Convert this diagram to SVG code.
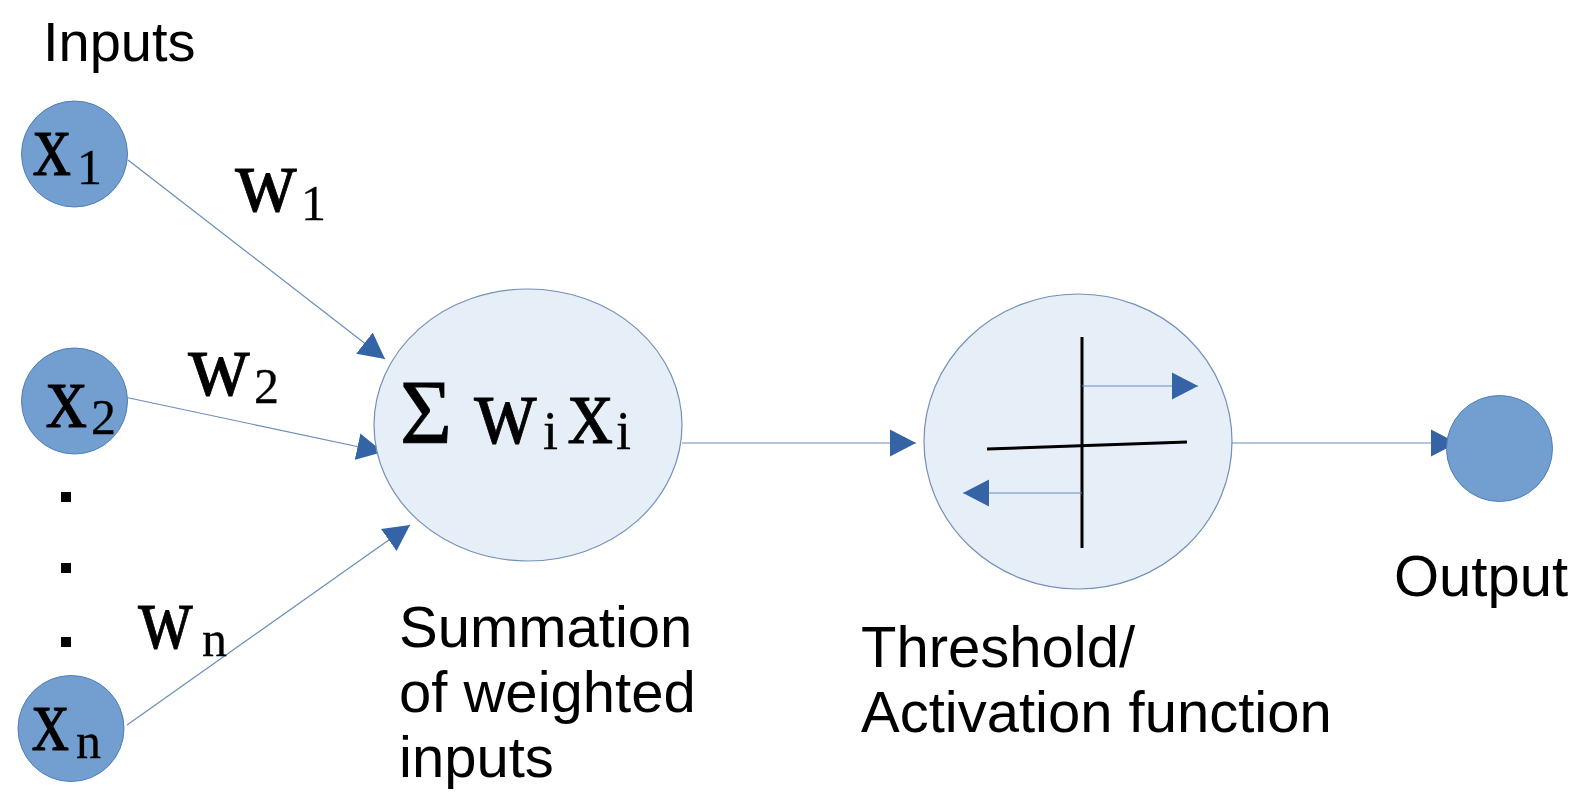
<svg xmlns="http://www.w3.org/2000/svg" width="1588" height="793" viewBox="0 0 1588 793">
  <style>
    .bg { fill: #ffffff; }
    .inode { fill: #729fcf; stroke: #4f7fb8; stroke-width: 1; }
    .bignode { fill: #e6eef8; stroke: #7390b8; stroke-width: 1.2; }
    .edge { fill: none; stroke: #6a8cbc; stroke-width: 1.2; marker-end: url(#head); }
    .axis { fill: none; stroke: #000000; stroke-width: 3; }
    .lbl { font-family: "Liberation Sans", Arial, sans-serif; font-size: 58px; fill: #000000; }
    .var { font-family: "Liberation Serif", "Times New Roman", serif; font-size: 92px; fill: #000000; stroke: #000000; stroke-width: 0.8; }
    .sub { font-family: "Liberation Serif", "Times New Roman", serif; font-size: 50px; fill: #000000; stroke: #000000; stroke-width: 0.3; }
    .dot { fill: #000000; }
  </style>
  <defs>
    <marker id="head" markerUnits="userSpaceOnUse" markerWidth="26" markerHeight="28" refX="26" refY="14" orient="auto">
      <path d="M0,0.5 L26,14 L0,27.5 Z" fill="#3464a6"/>
    </marker>
  </defs>

  <rect class="bg" x="0" y="0" width="1588" height="793"/>

  <text class="lbl" x="43" y="61" style="font-size:56px">Inputs</text>

  <!-- connectors -->
  <g id="connectors">
    <line class="edge" x1="128" y1="160" x2="385" y2="359"/>
    <line class="edge" x1="115" y1="395" x2="383" y2="452"/>
    <line class="edge" x1="127" y1="725" x2="410" y2="525"/>
    <line class="edge" x1="682" y1="443" x2="916" y2="443"/>
    <line class="edge" x1="1232" y1="443" x2="1457" y2="443"/>
  </g>

  <!-- input nodes -->
  <g id="node-x1">
    <circle class="inode" cx="74.5" cy="154" r="53"/>
    <text class="var" x="33" y="175" textLength="38" lengthAdjust="spacingAndGlyphs">x</text>
    <text class="sub" x="77" y="184">1</text>
  </g>
  <g id="node-x2">
    <circle class="inode" cx="74.5" cy="401" r="53"/>
    <text class="var" x="46" y="427" textLength="41" lengthAdjust="spacingAndGlyphs">x</text>
    <text class="sub" x="91" y="434">2</text>
  </g>
  <g id="node-xn">
    <circle class="inode" cx="71" cy="728.5" r="53"/>
    <text class="var" x="32" y="750" textLength="37" lengthAdjust="spacingAndGlyphs">x</text>
    <text class="sub" x="76" y="758">n</text>
  </g>

  <!-- ellipsis between inputs -->
  <g id="ellipsis">
    <rect class="dot" x="61" y="492" width="10" height="10"/>
    <rect class="dot" x="61" y="563" width="10" height="10"/>
    <rect class="dot" x="61" y="637" width="10" height="10"/>
  </g>

  <!-- weights -->
  <g id="weights">
    <text class="var" x="235" y="211" textLength="62" lengthAdjust="spacingAndGlyphs">w</text>
    <text class="sub" x="301" y="220">1</text>
    <text class="var" x="188" y="395" textLength="62" lengthAdjust="spacingAndGlyphs">w</text>
    <text class="sub" x="254" y="403">2</text>
    <text class="var" x="138" y="648" textLength="55" lengthAdjust="spacingAndGlyphs">w</text>
    <text class="sub" x="202" y="656">n</text>
  </g>

  <!-- summation node -->
  <g id="node-sum">
    <ellipse class="bignode" cx="528" cy="425" rx="154" ry="136"/>
    <text class="var" x="400" y="443" style="font-size:92px" textLength="52" lengthAdjust="spacingAndGlyphs">Σ</text>
    <text class="var" x="474" y="443" style="font-size:98px" textLength="63" lengthAdjust="spacingAndGlyphs">w</text>
    <text class="sub" x="543" y="449" style="font-size:54px">i</text>
    <text class="var" x="568" y="443" style="font-size:98px" textLength="45" lengthAdjust="spacingAndGlyphs">x</text>
    <text class="sub" x="616" y="449" style="font-size:54px">i</text>
  </g>
  <g id="label-sum">
    <text class="lbl" x="399" y="647">Summation</text>
    <text class="lbl" x="399" y="712">of weighted</text>
    <text class="lbl" x="399" y="777">inputs</text>
  </g>

  <!-- threshold / activation node -->
  <g id="node-activation">
    <ellipse class="bignode" cx="1078" cy="441.5" rx="154" ry="147.5"/>
    <line class="axis" x1="1082" y1="337" x2="1082" y2="548"/>
    <line class="axis" x1="987" y1="449" x2="1187" y2="442"/>
    <line class="edge" x1="1082" y1="386" x2="1198" y2="386"/>
    <line class="edge" x1="1082" y1="493" x2="963" y2="493"/>
  </g>
  <g id="label-activation">
    <text class="lbl" x="861" y="667">Threshold/</text>
    <text class="lbl" x="861" y="732">Activation function</text>
  </g>

  <!-- output node -->
  <g id="node-output">
    <circle class="inode" cx="1499.5" cy="448.5" r="53"/>
    <text class="lbl" x="1394" y="596">Output</text>
  </g>
</svg>
